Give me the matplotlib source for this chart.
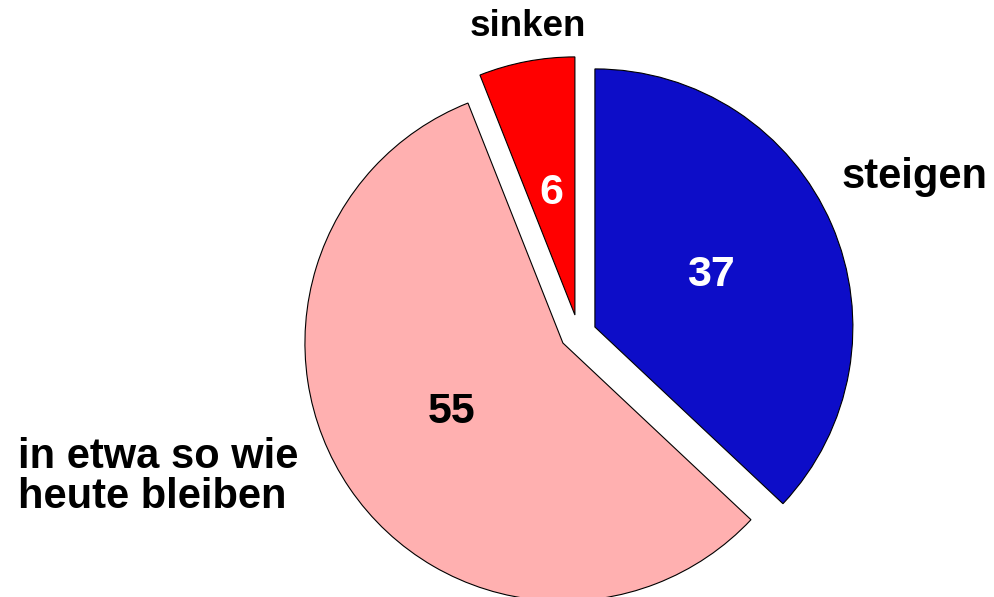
import matplotlib
matplotlib.use("Agg")
import matplotlib.pyplot as plt

# data
labels = ["steigen", "in etwa so wie\nheute bleiben", "sinken"]
values = [37, 55, 6]
colors = ["#0d0dc8", "#ffb0b0", "#ff0000"]
value_colors = ["white", "black", "white"]

plt.rcParams["font.family"] = ["Liberation Sans", "DejaVu Sans"]

fig = plt.figure(figsize=(9.94, 5.97), dpi=100)
ax = fig.add_axes([0, 0, 1, 1])

# percentage scale; middle slice fills the rest of the circle (as in the original)
sizes = [values[0] / 100, 1 - (values[0] + values[2]) / 100, values[2] / 100]
wedges, _ = ax.pie(sizes, colors=colors, startangle=90, counterclock=False,
                   normalize=False, radius=1.0,
                   wedgeprops=dict(edgecolor="black", linewidth=0.8))

# shift exploded slices
shifts = [(0.124, 0.062), (0.0, 0.0), (0.0465, 0.1085)]
for w, s in zip(wedges, shifts):
    w.set_center(s)

# value labels inside slices
value_pos = [(0.574, 0.262), (-0.430, -0.267), (-0.0465, 0.583)]
for v, p, c in zip(values, value_pos, value_colors):
    ax.text(p[0], p[1], str(v), color=c, fontsize=31, fontweight="bold",
            ha="center", va="center")

# category labels
ax.text(1.364, 0.645, labels[0], fontsize=30, fontweight="bold", ha="center", va="center")
ax.text(-2.112, -0.519, labels[1], fontsize=30, fontweight="bold", ha="left", va="center",
        linespacing=0.98)
ax.text(-0.136, 1.228, labels[2], fontsize=26.5, fontweight="bold", ha="center", va="center")

ax.set_xlim(-2.182, 1.671)
ax.set_ylim(-0.984, 1.329)
ax.set_aspect("auto")
ax.axis("off")

fig.savefig("out.png", dpi=100)
